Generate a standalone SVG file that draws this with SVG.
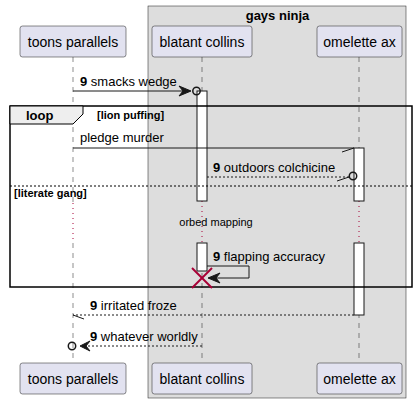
<svg xmlns="http://www.w3.org/2000/svg" width="418" height="404" viewBox="0 0 418 404">
<defs>
<style>
.pbox{fill:#E2E2F0;stroke:#181818;stroke-width:0.5}
.ptxt{font-family:"Liberation Sans",Arial,sans-serif;font-size:14px;fill:#000;text-anchor:middle}
.life{stroke:#181818;stroke-width:0.5;stroke-dasharray:5,5;fill:none}
.delay{stroke:#A80036;stroke-width:1;stroke-dasharray:1,4;fill:none}
.act{fill:#FFFFFF;stroke:#181818;stroke-width:1}
.msg{font-family:"Liberation Sans",Arial,sans-serif;font-size:13px;fill:#000}
.b{font-weight:bold}
.line{stroke:#181818;stroke-width:1;fill:none}
.dot{stroke:#181818;stroke-width:1;fill:none;stroke-dasharray:2,2}
.head{fill:#181818;stroke:#181818;stroke-width:1}
.small{font-family:"Liberation Sans",Arial,sans-serif;font-size:11px;fill:#000}
</style>
</defs>
<g id="box-gays-ninja">
<rect x="148" y="6" width="258" height="392" fill="#DDDDDD" stroke="#181818" stroke-width="0.5"/>
<text x="277.5" y="20" class="msg b" text-anchor="middle">gays ninja</text>
</g>
<g id="lifelines">
<line x1="73" y1="57" x2="73" y2="203" class="life"/>
<line x1="73" y1="203" x2="73" y2="243" class="delay"/>
<line x1="73" y1="243" x2="73" y2="363" class="life"/>
<line x1="202" y1="57" x2="202" y2="201" class="life"/>
<line x1="202" y1="201" x2="202" y2="243" class="delay"/>
<line x1="202" y1="243" x2="202" y2="363" class="life"/>
<line x1="359" y1="57" x2="359" y2="201" class="life"/>
<line x1="359" y1="201" x2="359" y2="243" class="delay"/>
<line x1="359" y1="243" x2="359" y2="363" class="life"/>
</g>
<g id="activations">
<rect x="197" y="91" width="10" height="110" class="act"/>
<rect x="197" y="243" width="10" height="28" class="act"/>
<rect x="354" y="148" width="10" height="53" class="act"/>
<rect x="354" y="243" width="10" height="72" class="act"/>
</g>
<g id="p-toons-parallels">
<rect x="20" y="26" width="106" height="31" rx="2.5" class="pbox"/>
<text x="73" y="47" class="ptxt">toons parallels</text>
<rect x="20" y="363" width="106" height="31" rx="2.5" class="pbox"/>
<text x="73" y="384" class="ptxt">toons parallels</text>
</g>
<g id="p-blatant-collins">
<rect x="152" y="26" width="100" height="31" rx="2.5" class="pbox"/>
<text x="202" y="47" class="ptxt">blatant collins</text>
<rect x="152" y="363" width="100" height="31" rx="2.5" class="pbox"/>
<text x="202" y="384" class="ptxt">blatant collins</text>
</g>
<g id="p-omelette-ax">
<rect x="317" y="26" width="85" height="31" rx="2.5" class="pbox"/>
<text x="359.5" y="47" class="ptxt">omelette ax</text>
<rect x="317" y="363" width="85" height="31" rx="2.5" class="pbox"/>
<text x="359.5" y="384" class="ptxt">omelette ax</text>
</g>
<g id="fragment-loop">
<rect x="10" y="106" width="402" height="181" fill="none" stroke="#000" stroke-width="1.5"/>
<polygon points="10,106 83,106 83,114 73,124 10,124" fill="#EEEEEE" stroke="#000" stroke-width="1"/>
<text x="26" y="120" class="msg b">loop</text>
<text x="97" y="119" class="small b">[lion puffing]</text>
<line x1="10" y1="186" x2="412" y2="186" stroke="#000" stroke-width="1" stroke-dasharray="2,2"/>
<text x="14" y="197" class="small b">[literate gang]</text>
</g>
<g id="connectors">
<line x1="73" y1="91" x2="190" y2="91" class="line"/>
<polygon points="179,86 191,91 179,96 183,91" class="head"/>
<circle cx="196.5" cy="91" r="3.7" fill="none" stroke="#181818" stroke-width="1.5"/>
<text x="80" y="86" class="msg"><tspan class="b">9</tspan> smacks wedge</text>

<line x1="73" y1="148" x2="354" y2="148" class="line"/>
<line x1="342" y1="152" x2="354" y2="148" class="line"/>
<text x="80" y="142" class="msg">pledge murder</text>

<line x1="207" y1="177" x2="349" y2="177" class="dot"/>
<line x1="337" y1="181" x2="349" y2="177" class="line"/>
<circle cx="353" cy="176" r="3.7" fill="none" stroke="#181818" stroke-width="1.5"/>
<text x="213" y="172" class="msg"><tspan class="b">9</tspan> outdoors colchicine</text>

<text x="216" y="226" class="small" text-anchor="middle">orbed mapping</text>

<polyline points="207,266 249,266 249,278 209,278" class="line"/>
<polygon points="220,273 208,278 220,283 216,278" class="head"/>
<text x="213" y="261" class="msg"><tspan class="b">9</tspan> flapping accuracy</text>
<g stroke="#A80036" stroke-width="2">
<line x1="192" y1="268" x2="212" y2="288"/>
<line x1="212" y1="268" x2="192" y2="288"/>
</g>

<line x1="354" y1="315" x2="73" y2="315" class="dot"/>
<line x1="73" y1="315" x2="84" y2="319" class="line"/>
<text x="90" y="310" class="msg"><tspan class="b">9</tspan> irritated froze</text>

<line x1="202" y1="346" x2="86" y2="346" class="dot"/>
<polygon points="90,341 80,346 90,351 86,346" class="head"/>
<circle cx="72" cy="346" r="3.7" fill="none" stroke="#181818" stroke-width="1.5"/>
<text x="90" y="341" class="msg"><tspan class="b">9</tspan> whatever worldly</text>
</g>
</svg>
